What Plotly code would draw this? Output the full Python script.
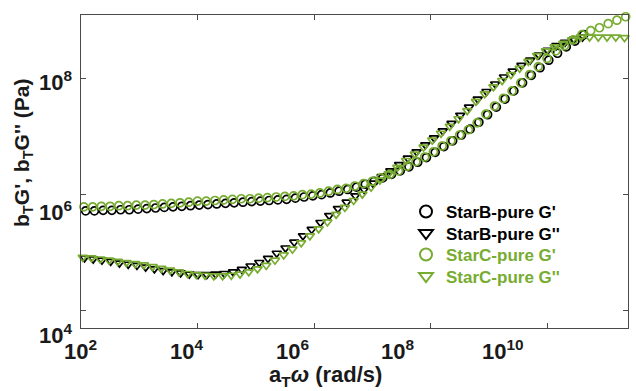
import numpy as np
import plotly.graph_objects as go

# ---------------- data (log10 values) ----------------
# StarB-pure G'  (black circles)
starB_Gp_logw = [2.08, 2.23, 2.38, 2.53, 2.68, 2.83, 2.98, 3.13, 3.28, 3.43, 3.58, 3.73, 3.88, 4.03,
                 4.18, 4.33, 4.48, 4.63, 4.78, 4.93, 5.08, 5.23, 5.38, 5.53, 5.68, 5.83, 5.98, 6.13,
                 6.28, 6.43, 6.58, 6.73, 6.88, 7.03, 7.18, 7.33, 7.48, 7.63, 7.78, 7.93, 8.08, 8.23,
                 8.38, 8.53, 8.68, 8.83, 8.98, 9.13, 9.28, 9.43, 9.58, 9.73, 9.88, 10.03, 10.18,
                 10.33, 10.48, 10.63]
starB_Gp_logG = [5.71, 5.71, 5.72, 5.72, 5.73, 5.73, 5.74, 5.75, 5.76, 5.77, 5.78, 5.79, 5.80, 5.81,
                 5.82, 5.83, 5.84, 5.85, 5.86, 5.87, 5.88, 5.89, 5.90, 5.91, 5.93, 5.95, 5.97, 5.99,
                 6.02, 6.05, 6.08, 6.12, 6.17, 6.22, 6.28, 6.34, 6.40, 6.47, 6.55, 6.63, 6.72, 6.82,
                 6.92, 7.02, 7.12, 7.24, 7.37, 7.50, 7.64, 7.78, 7.92, 8.05, 8.18, 8.31, 8.43,
                 8.54, 8.64, 8.75]

# StarB-pure G''  (black triangles)
starB_Gpp_logw = [2.06, 2.21, 2.36, 2.51, 2.66, 2.81, 2.96, 3.11, 3.26, 3.41, 3.56, 3.71, 3.86, 4.01,
                  4.16, 4.31, 4.46, 4.61, 4.76, 4.91, 5.06, 5.21, 5.36, 5.51, 5.66, 5.81, 5.96, 6.11,
                  6.26, 6.41, 6.56, 6.71, 6.86, 7.01, 7.16, 7.31, 7.46, 7.61, 7.76, 7.91, 8.06, 8.21,
                  8.36, 8.51, 8.66, 8.81, 8.96, 9.11, 9.26, 9.41, 9.56, 9.71, 9.86, 10.01, 10.16,
                  10.31, 10.46, 10.61]
starB_Gpp_logG = [4.90, 4.88, 4.86, 4.84, 4.81, 4.79, 4.77, 4.74, 4.71, 4.68, 4.66, 4.64, 4.62, 4.61,
                  4.61, 4.62, 4.63, 4.66, 4.70, 4.76, 4.82, 4.89, 4.98, 5.07, 5.17, 5.28, 5.39, 5.51,
                  5.63, 5.75, 5.86, 5.97, 6.08, 6.19, 6.30, 6.40, 6.51, 6.62, 6.73, 6.85, 6.97, 7.09,
                  7.22, 7.36, 7.50, 7.64, 7.77, 7.90, 8.02, 8.12, 8.22, 8.31, 8.40, 8.48, 8.56,
                  8.62, 8.67, 8.71]

# StarC-pure G'  (green circles)
starC_Gp_logw = [2.05, 2.20, 2.35, 2.50, 2.65, 2.80, 2.95, 3.10, 3.25, 3.40, 3.55, 3.70, 3.85, 4.00,
                 4.15, 4.30, 4.45, 4.60, 4.75, 4.90, 5.05, 5.20, 5.35, 5.50, 5.65, 5.80, 5.95, 6.10,
                 6.25, 6.40, 6.55, 6.70, 6.85, 7.00, 7.15, 7.30, 7.45, 7.60, 7.75, 7.90, 8.05, 8.20,
                 8.35, 8.50, 8.65, 8.80, 8.95, 9.10, 9.25, 9.40, 9.55, 9.70, 9.85, 10.00, 10.15,
                 10.30, 10.45, 10.60, 10.75, 10.90, 11.05, 11.20, 11.35]
starC_Gp_logG = [5.78, 5.78, 5.79, 5.79, 5.80, 5.80, 5.81, 5.81, 5.82, 5.83, 5.84, 5.85, 5.86, 5.88,
                 5.88, 5.89, 5.90, 5.91, 5.92, 5.92, 5.93, 5.94, 5.95, 5.96, 5.97, 5.99, 6.00, 6.02,
                 6.05, 6.08, 6.10, 6.14, 6.18, 6.22, 6.28, 6.34, 6.40, 6.48, 6.56, 6.64, 6.73, 6.83,
                 6.92, 7.02, 7.11, 7.23, 7.38, 7.52, 7.65, 7.78, 7.92, 8.06, 8.20, 8.34, 8.47,
                 8.56, 8.66, 8.75, 8.82, 8.87, 8.94, 9.00, 9.06]

# StarC-pure G''  (green triangles)
starC_Gpp_logw = [2.03, 2.18, 2.33, 2.48, 2.63, 2.78, 2.93, 3.08, 3.23, 3.38, 3.53, 3.68, 3.83, 3.98,
                  4.13, 4.28, 4.43, 4.58, 4.73, 4.88, 5.03, 5.18, 5.33, 5.48, 5.63, 5.78, 5.93, 6.08,
                  6.23, 6.38, 6.53, 6.68, 6.83, 6.98, 7.13, 7.28, 7.43, 7.58, 7.73, 7.88, 8.03, 8.18,
                  8.33, 8.48, 8.63, 8.78, 8.93, 9.08, 9.23, 9.38, 9.53, 9.68, 9.83, 9.98, 10.13,
                  10.28, 10.43, 10.58, 10.73, 10.88, 11.03, 11.18, 11.33]
starC_Gpp_logG = [4.91, 4.90, 4.88, 4.86, 4.84, 4.82, 4.80, 4.78, 4.75, 4.72, 4.69, 4.66, 4.63, 4.61,
                  4.60, 4.59, 4.59, 4.60, 4.62, 4.66, 4.71, 4.77, 4.86, 4.95, 5.05, 5.16, 5.28, 5.40,
                  5.52, 5.65, 5.77, 5.89, 6.00, 6.12, 6.24, 6.35, 6.46, 6.58, 6.69, 6.81, 6.93, 7.05,
                  7.17, 7.30, 7.44, 7.60, 7.73, 7.85, 7.96, 8.06, 8.17, 8.29, 8.39, 8.47, 8.54,
                  8.60, 8.66, 8.71, 8.71, 8.71, 8.71, 8.71, 8.70]

series_names = ["StarB-pure G'", "StarB-pure G''", "StarC-pure G'", "StarC-pure G''"]

x_tick_exps = [2, 4, 6, 8, 10]
y_tick_exps = [4, 6, 8]

# ---------------- style / layout ----------------
BLACK = "#000000"
GREEN = "#77AC30"
AXC = "#4a4a4a"
TXT = "#1a1a1a"
FONT = "Arial, 'Liberation Sans', Helvetica, sans-serif"

W, H = 636, 391
L, R, T, B = 81, 8, 15, 63
PW, PH = W - L - R, H - T - B

X_RANGE = [2.0, 11.39]
Y_RANGE = [3.69, 9.09]

def px_to_paper_x(px):
    return (px - L) / PW

def px_to_paper_y(py):
    return 1 - (py - T) / PH

# pixel placement of the tick labels (they sit slightly off the tick marks in the original)
X_LABEL_PX = {2: 80, 4: 186, 6: 292, 8: 397, 10: 503}
Y_LABEL_PX = {8: 81, 6: 211, 4: 334}
LEGEND_ROWS_PX = [212, 233.5, 255, 276.5]
LEGEND_LEFT_PX = 406

fig = go.Figure()

legend_ids = ["legend", "legend2", "legend3", "legend4"]

def add(i, xlog, ylog, color, symbol):
    fig.add_trace(go.Scatter(
        x=10 ** np.array(xlog), y=10 ** np.array(ylog), mode="markers",
        name=f"<span style='color:{color}'>{series_names[i]}</span>",
        marker=dict(symbol=symbol, size=8, color=color, line=dict(color=color, width=1.7)),
        cliponaxis=False, legend=legend_ids[i],
    ))

add(0, starB_Gp_logw, starB_Gp_logG, BLACK, "circle-open")
add(1, starB_Gpp_logw, starB_Gpp_logG, BLACK, "triangle-down-open")
add(2, starC_Gp_logw, starC_Gp_logG, GREEN, "circle-open")
add(3, starC_Gpp_logw, starC_Gpp_logG, GREEN, "triangle-down-open")

axis_common = dict(
    type="log", showgrid=False, zeroline=False, showline=True, linecolor=AXC, linewidth=1,
    mirror="ticks", ticks="inside", ticklen=5, tickwidth=1, tickcolor=AXC,
    showticklabels=False,
)
fig.update_xaxes(range=X_RANGE, tickvals=[10 ** e for e in x_tick_exps], **axis_common)
fig.update_yaxes(range=Y_RANGE, tickvals=[10 ** e for e in y_tick_exps], **axis_common)

tick_font = dict(family=FONT, size=22, color=TXT, weight="bold")
annotations = []
for e in x_tick_exps:
    annotations.append(dict(
        x=px_to_paper_x(X_LABEL_PX[e]), y=px_to_paper_y(334), xref="paper", yref="paper",
        text=f"10<sup>{e}</sup>", showarrow=False, xanchor="center", yanchor="top",
        font=tick_font,
    ))
for e in y_tick_exps:
    annotations.append(dict(
        x=px_to_paper_x(74), y=px_to_paper_y(Y_LABEL_PX[e]), xref="paper", yref="paper",
        text=f"10<sup>{e}</sup>", showarrow=False, xanchor="right", yanchor="middle",
        font=tick_font,
    ))
annotations.append(dict(
    x=px_to_paper_x(325), y=px_to_paper_y(376), xref="paper", yref="paper",
    text="a<sub>T</sub><i>ω</i> (rad/s)", showarrow=False, xanchor="center", yanchor="middle",
    font=dict(family=FONT, size=22, color=TXT, weight="bold"),
))
annotations.append(dict(
    x=px_to_paper_x(23), y=px_to_paper_y(153), xref="paper", yref="paper",
    text="b<sub>T</sub>G', b<sub>T</sub>G'' (Pa)", showarrow=False, textangle=-90,
    xanchor="center", yanchor="middle",
    font=dict(family=FONT, size=21, color=TXT, weight="bold"),
))

legend_layout = {}
for i, lid in enumerate(legend_ids):
    legend_layout[lid] = dict(
        x=px_to_paper_x(LEGEND_LEFT_PX), y=px_to_paper_y(LEGEND_ROWS_PX[i]),
        xanchor="left", yanchor="middle",
        bgcolor="rgba(0,0,0,0)", borderwidth=0,
        font=dict(family=FONT, size=17, color=BLACK, weight="bold"),
        tracegroupgap=0, itemsizing="constant",
    )

fig.update_layout(
    width=W, height=H,
    margin=dict(l=L, r=R, t=T, b=B),
    paper_bgcolor="white", plot_bgcolor="white",
    showlegend=True,
    annotations=annotations,
    **legend_layout,
)

fig.write_html("out.html")
